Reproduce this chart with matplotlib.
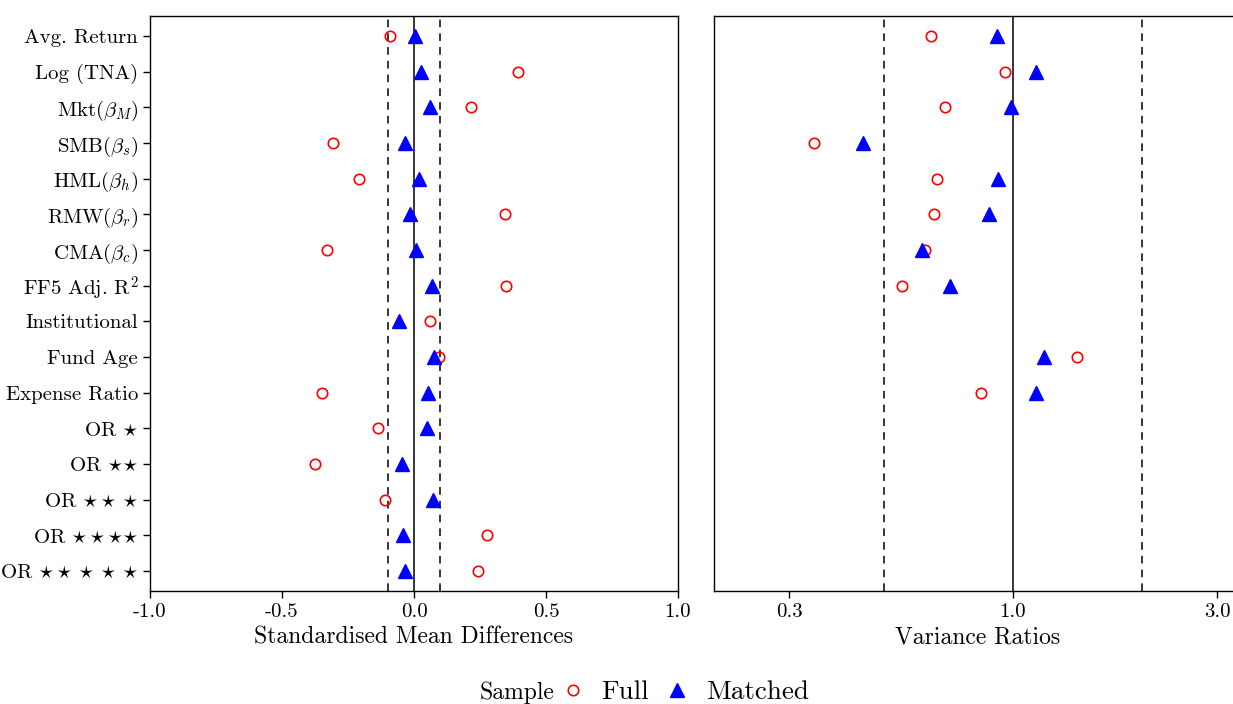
import numpy as np
import matplotlib
matplotlib.use("Agg")
import matplotlib.pyplot as plt
from matplotlib.lines import Line2D

# -----------------------------
# data
# -----------------------------
covariates = [
    "Avg. Return", "Log (TNA)", r"Mkt($\beta_M$)", r"SMB($\beta_s$)",
    r"HML($\beta_h$)", r"RMW($\beta_r$)", r"CMA($\beta_c$)", r"FF5 Adj. R$^2$",
    "Institutional", "Fund Age", "Expense Ratio",
    r"OR $\star$", r"OR ${\star}{\star}$", r"OR $\star\star\star$",
    r"OR $\star\star{\star}{\star}$", r"OR $\star\star\star\star\star$",
]

smd_full = [-0.091, 0.394, 0.216, -0.307, -0.208, 0.345, -0.330, 0.348,
            0.061, 0.095, -0.348, -0.136, -0.375, -0.110, 0.277, 0.242]
smd_matched = [0.004, 0.027, 0.061, -0.034, 0.019, -0.015, 0.008, 0.068,
               -0.057, 0.076, 0.053, 0.049, -0.045, 0.072, -0.042, -0.034]

nan = np.nan
vr_full = [0.642, 0.957, 0.692, 0.342, 0.663, 0.652, 0.623, 0.550,
           nan, 1.414, 0.843, nan, nan, nan, nan, nan]
vr_matched = [0.918, 1.129, 0.991, 0.446, 0.923, 0.878, 0.614, 0.714,
              nan, 1.180, 1.129, nan, nan, nan, nan, nan]

smd_ticks = [-1.0, -0.5, 0.0, 0.5, 1.0]
vr_ticks = [0.3, 1.0, 3.0]

# -----------------------------
# style
# -----------------------------
plt.rcParams["font.family"] = "serif"
plt.rcParams["font.serif"] = ["cmr10", "DejaVu Serif"]
plt.rcParams["mathtext.fontset"] = "cm"
plt.rcParams["axes.unicode_minus"] = False
plt.rcParams["axes.linewidth"] = 1.0

W, H = 1233, 704
fig = plt.figure(figsize=(W / 100, H / 100), dpi=100)

def px_axes(x0, y0, x1, y1):
    return fig.add_axes([x0 / W, 1 - y1 / H, (x1 - x0) / W, (y1 - y0) / H])

ax1 = px_axes(150, 16, 678, 591)
ax2 = px_axes(714, 16, 1242, 591)

y = np.arange(len(covariates))
full_kw = dict(marker="o", ls="none", mfc="none", mec="red", mew=1.2, ms=7.5)
match_kw = dict(marker="^", ls="none", color="blue", ms=10)

# -----------------------------
# left: standardised mean differences
# -----------------------------
ax1.axvline(0, color="black", lw=1.1)
ax1.axvline(-0.1, color="black", lw=1.1, ls=(0, (5, 4)))
ax1.axvline(0.1, color="black", lw=1.1, ls=(0, (5, 4)))
ax1.plot(smd_full, y, **full_kw)
ax1.plot(smd_matched, y, **match_kw)
ax1.set_xlim(-1, 1)
ax1.set_ylim(len(covariates) - 0.44, -0.56)
ax1.set_yticks(y)
ax1.set_yticklabels(covariates)
ax1.set_xticks(smd_ticks)
ax1.set_xticklabels(["%.1f" % t for t in smd_ticks])
ax1.set_xlabel("Standardised Mean Differences", fontsize=17, labelpad=4)

# -----------------------------
# right: variance ratios
# -----------------------------
ax2.set_xscale("log")
ax2.axvline(1.0, color="black", lw=1.1)
ax2.axvline(0.5, color="black", lw=1.1, ls=(0, (5, 4)))
ax2.axvline(2.0, color="black", lw=1.1, ls=(0, (5, 4)))
ax2.plot(vr_full, y, **full_kw)
ax2.plot(vr_matched, y, **match_kw)
ax2.set_xlim(0.2, 3.43)
ax2.set_ylim(len(covariates) - 0.44, -0.56)
ax2.set_yticks([])
ax2.set_xticks(vr_ticks)
ax2.set_xticklabels(["%.1f" % t for t in vr_ticks])
ax2.xaxis.set_minor_locator(matplotlib.ticker.NullLocator())
ax2.set_xlabel("Variance Ratios", fontsize=17, labelpad=4)

for ax in (ax1, ax2):
    ax.tick_params(labelsize=15, length=5, width=1.0, direction="out")

# -----------------------------
# legend
# -----------------------------
fig.text(517 / W, 1 - 693 / H, "Sample", ha="center", va="center", fontsize=17)
handles = [
    Line2D([], [], **full_kw),
    Line2D([], [], **match_kw),
]
fig.legend(handles, ["Full", "Matched"], loc="center left",
           bbox_to_anchor=(558 / W, 1 - 692 / H), ncol=2, frameon=False,
           fontsize=19.5, handlelength=1.1, handletextpad=0.5, columnspacing=0.5,
           borderaxespad=0, borderpad=0)

fig.savefig("out.png", dpi=100)
